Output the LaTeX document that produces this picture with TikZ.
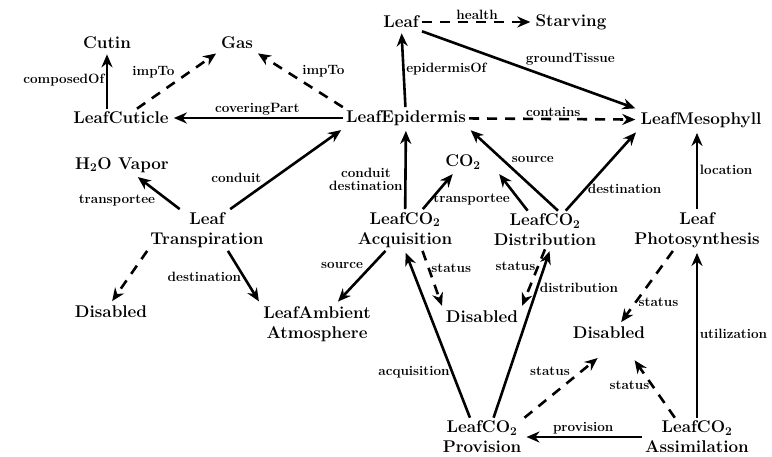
\documentclass[tikz,border=0pt]{standalone}
\usepackage{fontspec}
\usetikzlibrary{arrows.meta}

\begin{document}
\begin{tikzpicture}[x=1pt,y=-1pt,shorten >=2pt,auto,line width=2.6pt,
    >={Stealth[length=13pt,width=11pt]}]
    \tikzset{concept/.style={align=center,inner sep=2pt,font=\fontsize{17}{20}\selectfont\bfseries},
      rel/.style={font=\fontsize{13.5}{12.5}\selectfont\bfseries,inner sep=1.5pt},
      weak/.style={dash pattern=on 10pt off 8pt}}
    \useasboundingbox (0,0) rectangle (772,457);

    \node[concept] (leaf) at (401,22) {Leaf};
    \node[concept] (starving) at (571,22) {Starving};
    \node[concept] (cutin) at (107,43) {Cutin};
    \node[concept] (gas) at (237,43) {Gas};
    \node[concept] (cuticle) at (121,118) {LeafCuticle};
    \node[concept] (epidermis) at (406,118) {LeafEpidermis};
    \node[concept] (mesophyll) at (701,120) {LeafMesophyll};
    \node[concept] (vapor) at (122,165) {H\textsubscript{2}O Vapor};
    \node[concept] (co2) at (463,162) {CO\textsubscript{2}};

    \node[concept] (transp) at (207,230) {Leaf\\Transpiration};
    \node[concept] (acq) at (405,230) {LeafCO\textsubscript{2}\\Acquisition};
    \node[concept] (distr) at (545,230) {LeafCO\textsubscript{2}\\Distribution};
    \node[concept] (photo) at (697,230) {Leaf\\Photosynthesis};

    \node[concept] (disL) at (111,312) {Disabled};
    \node[concept] (ambient) at (317,324) {LeafAmbient\\Atmosphere};
    \node[concept] (disM) at (482,317) {Disabled};
    \node[concept] (disR) at (609,333) {Disabled};

    \node[concept] (prov) at (482,437) {LeafCO\textsubscript{2}\\Provision};
    \node[concept] (assim) at (697,437) {LeafCO\textsubscript{2}\\Assimilation};

    \path[->]
    (leaf)
    edge [weak] node [rel,above] {health} (starving)
    (leaf.south east)
    edge node [rel,pos=0.47] {groundTissue} (mesophyll.north west)
    (epidermis)
    edge node [rel,right] {epidermisOf} (leaf)
    edge node [rel,above] {coveringPart} (cuticle)
    edge [weak] node [rel,above] {contains} (mesophyll)
    (epidermis.north west)
    edge [weak] node [rel,above right] {impTo} (gas.south east)
    (cuticle.north -| cutin)
    edge node [rel,left] {composedOf} (cutin)
    ([xshift=16pt]cuticle.north)
    edge [weak] node [rel] {impTo} (gas.south west)
    (transp)
    edge node [rel] {transportee} (vapor)
    (transp.42)
    edge node [rel,pos=0.3] {conduit} (epidermis.south west)
    (transp.south west)
    edge [weak] (disL.north)
    (transp.-45)
    edge node [rel,left] {destination} (ambient.north west)
    (acq)
    edge node [rel,left,align=center,pos=0.37] {conduit\\destination} (epidermis)
    edge node [rel,right,pos=0.25] {transportee} (co2)
    edge node [rel,above left,pos=0.4] {source} (ambient)
    (acq.-50)
    edge [weak] node [rel,right,pos=0.3] {status} (disM.north west)
    (distr.132)
    edge ([xshift=14pt]co2.south east)
    (distr.56)
    edge node [rel,above right,pos=0.55] {source} (epidermis.south east)
    (distr.43)
    edge node [rel,right,pos=0.27] {destination} (mesophyll.south west)
    (distr.south)
    edge [weak] node [rel,left,pos=0.29] {status} (disM.north east)
    (photo)
    edge node [rel,right] {location} (photo.north |- mesophyll.south)
    (photo.221)
    edge [weak] node [rel,right,pos=0.7] {status} (disR.40)
    (prov.122)
    edge node [rel,left,pos=0.27] {acquisition} (acq.south)
    (prov.59)
    edge node [rel,right,pos=0.77] {distribution} (distr.-75)
    (prov.north east)
    edge [weak,shorten >=25pt] node [rel,above left,pos=0.52] {status} ([xshift=8pt]disR.south)
    (assim.139)
    edge [weak,shorten >=22pt] node [rel,left,pos=0.43] {status} ([xshift=13pt]disR.south)
    (assim)
    edge node [rel,above] {provision} (prov)
    edge node [rel,right] {utilization} (photo)
    ;
\end{tikzpicture}
\end{document}
